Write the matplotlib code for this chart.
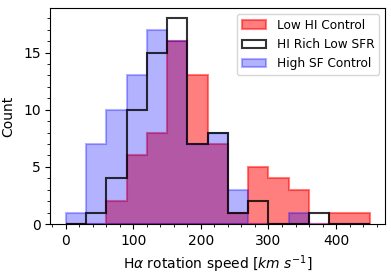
import matplotlib
matplotlib.use('Agg')
import matplotlib.pyplot as plt
import numpy as np
from matplotlib.ticker import MultipleLocator

# bin edges (km/s) and counts per bin
edges = np.arange(0, 451, 30)
low_hi = [0, 0, 2, 6, 8, 16, 13, 7, 1, 5, 4, 3, 0, 1, 1]
hi_rich = [0, 1, 4, 10, 15, 18, 7, 8, 1, 2, 0, 0, 1, 0, 0]
high_sf = [1, 7, 10, 13, 17, 16, 7, 8, 3, 0, 0, 1, 0, 0, 0]

centers = edges[:-1] + 15

fig = plt.figure(figsize=(3.91, 2.78), dpi=100)
ax = fig.add_axes([0.129, 0.194, 0.856, 0.777])

ax.hist(centers, bins=edges, weights=low_hi, histtype='stepfilled',
        facecolor=(1, 0, 0, 0.5), edgecolor=(1, 0, 0, 0.5), lw=1.5,
        label='Low HI Control')
ax.hist(centers, bins=edges, weights=hi_rich, histtype='step',
        color='k', alpha=0.8, lw=1.5, label='HI Rich Low SFR')
ax.hist(centers, bins=edges, weights=high_sf, histtype='stepfilled',
        facecolor=(0, 0, 1, 0.3), edgecolor=(0, 0, 1, 0.3), lw=1.5,
        label='High SF Control')

ax.set_xlim(-22.5, 472.5)
ax.set_ylim(0, 18.9)
ax.xaxis.set_minor_locator(MultipleLocator(20))
ax.yaxis.set_minor_locator(MultipleLocator(1))
ax.set_yticks([0, 5, 10, 15])
ax.tick_params(labelsize=10)
ax.set_xlabel(r'H$\alpha$ rotation speed [$km\ s^{-1}$]', fontsize=10)
ax.set_ylabel('Count', fontsize=10, labelpad=6)
ax.legend(loc='upper right', fontsize=8.7, handletextpad=0.9)

fig.savefig('out.png', dpi=100)
